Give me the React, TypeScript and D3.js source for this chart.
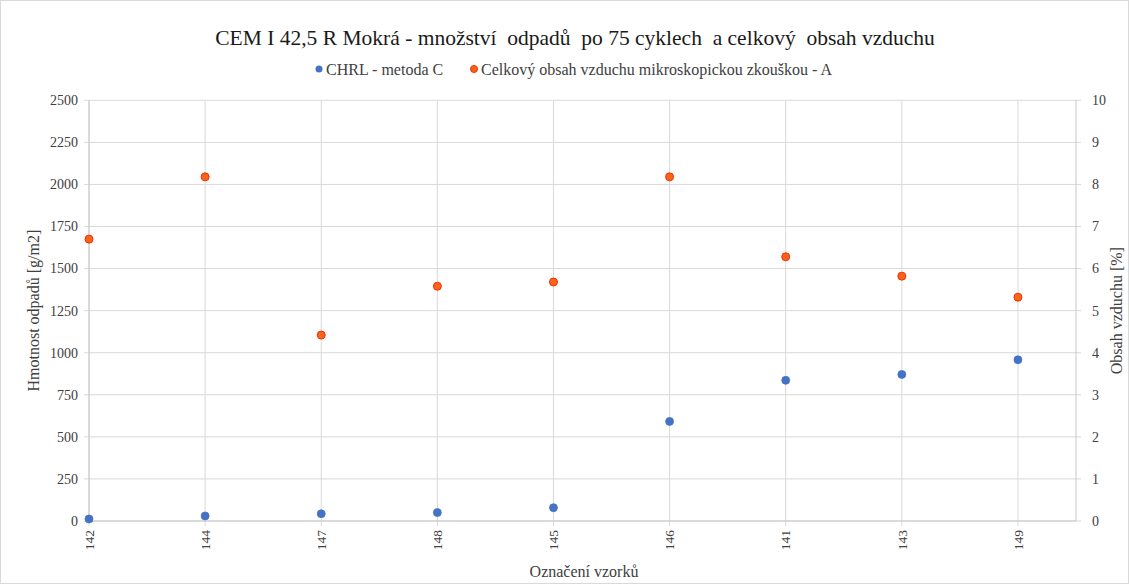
import React from "react";
import * as d3 from "d3";

const categories = ["142", "144", "147", "148", "145", "146", "141", "143", "149"];
const chrlValues = [12, 30, 43, 50, 79, 592, 836, 871, 958];
const airValues = [6.7, 8.18, 4.42, 5.58, 5.68, 8.18, 6.28, 5.82, 5.32];
const leftTicks = [0, 250, 500, 750, 1000, 1250, 1500, 1750, 2000, 2250, 2500];
const rightTicks = [0, 1, 2, 3, 4, 5, 6, 7, 8, 9, 10];

const W = 1129;
const H = 584;
const M = { left: 89, right: 1076, top: 100.3, bottom: 521 };
const FONT = "'Liberation Serif', 'Times New Roman', serif";
const GRID = "#d9d9d9";
const BLUE = "#4472C4";
const RED_FILL = "#F4661B";
const RED_STROKE = "#FF2B00";

export default function App() {
  const x = d3.scaleLinear().domain([0, categories.length - 0.5]).range([M.left, M.right]);
  const yL = d3.scaleLinear().domain([0, 2500]).range([M.bottom, M.top]);
  const yR = d3.scaleLinear().domain([0, 10]).range([M.bottom, M.top]);

  return (
    <svg width={W} height={H} style={{ position: "absolute", left: 0, top: 0, background: "#fff" }} fontFamily={FONT}>
      <rect x={0.5} y={0.5} width={W - 1} height={H - 1} fill="#fff" stroke={GRID} />
      {leftTicks.map((t) => (
        <g key={"h" + t}>
          <line x1={M.left} x2={M.right} y1={yL(t)} y2={yL(t)} stroke={GRID} strokeWidth={1} />
          <line x1={M.left - 5} x2={M.left} y1={yL(t)} y2={yL(t)} stroke={GRID} />
          <text x={M.left - 11} y={yL(t)} dy="0.35em" textAnchor="end" fontSize={14} fill="#404040">{t}</text>
        </g>
      ))}
      {rightTicks.map((t) => (
        <g key={"r" + t}>
          <line x1={M.right} x2={M.right + 5} y1={yR(t)} y2={yR(t)} stroke={GRID} />
          <text x={M.right + 16} y={yR(t)} dy="0.35em" textAnchor="start" fontSize={14} fill="#404040">{t}</text>
        </g>
      ))}
      {categories.map((c, i) => (
        <g key={"v" + c}>
          <line x1={x(i)} x2={x(i)} y1={M.top} y2={M.bottom + 5} stroke={GRID} strokeWidth={1} />
          <text transform={`translate(${x(i)},${M.bottom + 9}) rotate(-90)`} dy="0.35em" textAnchor="end" fontSize={13.5} fill="#404040">{c}</text>
        </g>
      ))}
      <line x1={M.left} x2={M.left} y1={M.top} y2={M.bottom} stroke="#c8c8c8" />
      <line x1={M.right} x2={M.right} y1={M.top} y2={M.bottom} stroke="#c8c8c8" />
      <line x1={M.left} x2={M.right} y1={M.bottom} y2={M.bottom} stroke="#c8c8c8" />
      {chrlValues.map((v, i) => (
        <circle key={"b" + i} cx={x(i)} cy={yL(v)} r={4} fill={BLUE} stroke={BLUE} strokeWidth={0.75} />
      ))}
      {airValues.map((v, i) => (
        <circle key={"o" + i} cx={x(i)} cy={yR(v)} r={4} fill={RED_FILL} stroke={RED_STROKE} strokeWidth={1} />
      ))}
      <text x={575} y={45} textAnchor="middle" fontSize={21.5} fill="#1a1a1a">CEM I 42,5 R Mokrá - množství&#160; odpadů&#160; po 75 cyklech&#160; a celkový&#160; obsah vzduchu</text>
      <circle cx={319} cy={69} r={3.5} fill={BLUE} />
      <text x={326} y={69} dy="0.35em" fontSize={16} fill="#404040">CHRL - metoda C</text>
      <circle cx={474} cy={69} r={3.5} fill={RED_FILL} stroke={RED_STROKE} strokeWidth={1} />
      <text x={481} y={69} dy="0.35em" fontSize={16} fill="#404040">Celkový obsah vzduchu mikroskopickou zkouškou - A</text>
      <text transform={`translate(39,${(M.top + M.bottom) / 2}) rotate(-90)`} textAnchor="middle" fontSize={16} fill="#404040">Hmotnost odpadů [g/m2]</text>
      <text transform={`translate(1122,${(M.top + M.bottom) / 2}) rotate(-90)`} textAnchor="middle" fontSize={16} fill="#404040">Obsah vzduchu [%]</text>
      <text x={584} y={577} textAnchor="middle" fontSize={16} fill="#404040">Označení vzorků</text>
    </svg>
  );
}
